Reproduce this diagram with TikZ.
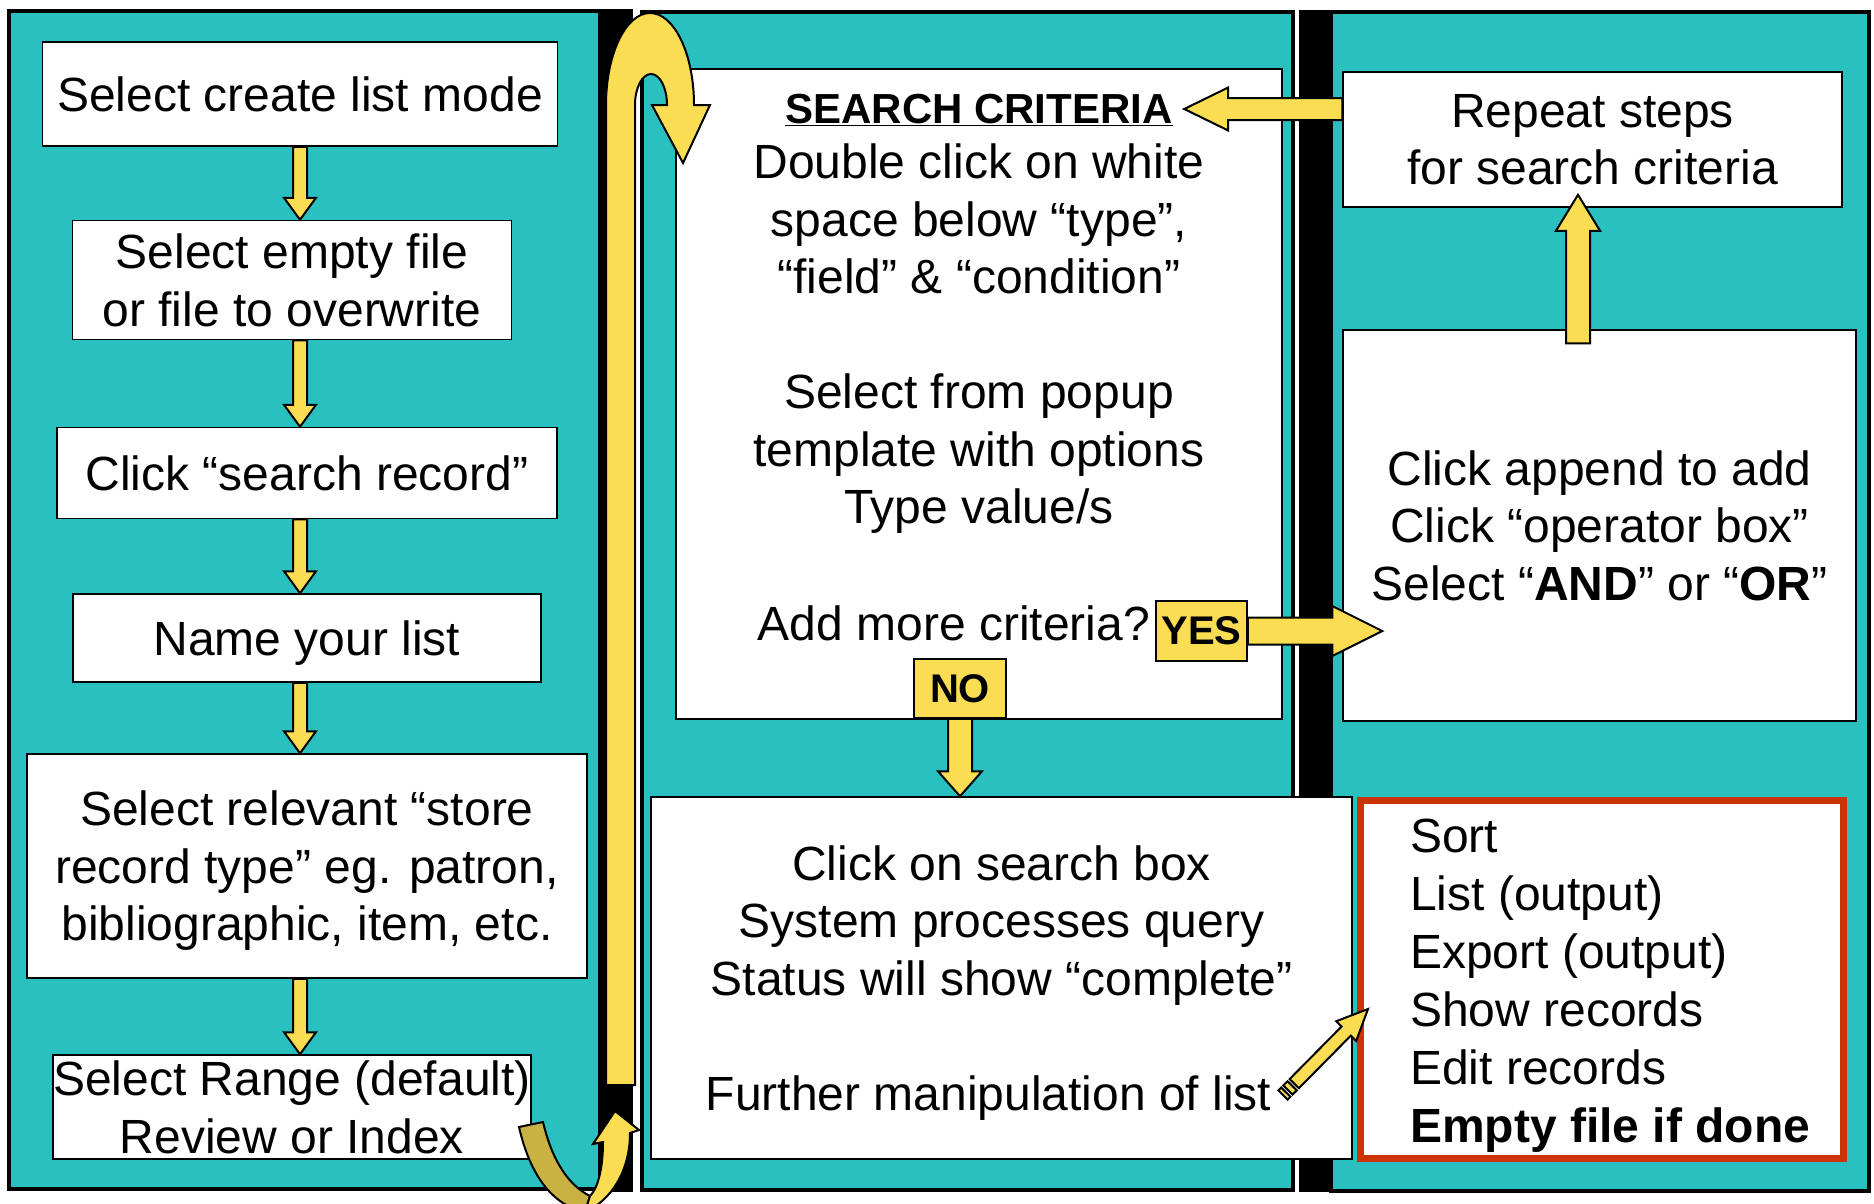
\documentclass[tikz,border=0pt]{standalone}
\usepackage{fontspec}
\setmainfont{Liberation Sans}
\usetikzlibrary{positioning,calc}

\definecolor{panelteal}{RGB}{42,192,191}
\definecolor{arrowyellow}{RGB}{250,221,82}
\definecolor{tailolive}{RGB}{201,178,66}
\definecolor{boxred}{RGB}{204,51,0}

% frame of a block arrow: start point, angle and length
\newcommand{\yframe}[2]{%
  \path (#1); \pgfgetlastxy{\yax}{\yay}%
  \path (#2); \pgfgetlastxy{\ybx}{\yby}%
  \pgfmathsetmacro{\yang}{atan2(\yby-\yay,\ybx-\yax)}%
  \pgfmathsetmacro{\ylen}{veclen(\ybx-\yax,\yby-\yay)}}

% from, to, shaft half width, head half width, head length
\newcommand{\yarrow}[5]{%
  \yframe{#1}{#2}%
  \begin{scope}[shift={(\yax,\yay)}, rotate=\yang, x=1pt, y=1pt]
    \draw[blockarrow] (0,-#3) -- ({\ylen-#5},-#3) -- ({\ylen-#5},-#4) -- (\ylen,0)
      -- ({\ylen-#5},#4) -- ({\ylen-#5},#3) -- (0,#3) -- cycle;
  \end{scope}}

\newcommand{\ystriped}[5]{%
  \yframe{#1}{#2}%
  \begin{scope}[shift={(\yax,\yay)}, rotate=\yang, x=1pt, y=1pt]
    \draw[blockarrow] (0,-#3) rectangle (4,#3);
    \draw[blockarrow] (7,-#3) rectangle (13,#3);
    \draw[blockarrow] (16,-#3) -- ({\ylen-#5},-#3) -- ({\ylen-#5},-#4) -- (\ylen,0)
      -- ({\ylen-#5},#4) -- ({\ylen-#5},#3) -- (16,#3) -- cycle;
  \end{scope}}

\begin{document}
\begin{tikzpicture}[x=1pt, y=-1pt,
	panel/.style={draw=black, line width=4pt, fill=panelteal},
	stepbox/.style={draw=black, line width=1.5pt, fill=white, inner sep=0pt, text depth=0pt, align=center, font=\fontsize{48}{57.5}\selectfont},
	txt/.style={inner sep=0pt, align=center, font=\fontsize{48}{57.5}\selectfont},
	tagbox/.style={draw=black, line width=1.5pt, fill=arrowyellow, inner sep=0pt, font=\fontsize{40}{48}\selectfont\bfseries},
	blockarrow/.style={draw=black, line width=2pt, fill=arrowyellow},
	tailarrow/.style={draw=black, line width=2pt, fill=tailolive}]
	
	\useasboundingbox (0,0) rectangle (1874,1203);
	\fill[white] (0,0) rectangle (1874,1203);
	
	% panels
	\draw[panel] (9,11) rectangle (600,1189);
	\fill[black] (600,9) rectangle (633,1192);
	\draw[panel] (642,12) rectangle (1293,1190);
	\fill[black] (1299,10) rectangle (1331,1192);
	\draw[panel] (1331,12) rectangle (1869,1191);
	
	% left column
	\node[stepbox, minimum width=515pt, minimum height=104pt] (mode) at (300,94) {Select create list mode};
	\node[stepbox, minimum width=439pt, minimum height=119pt] (file) at (292,280) {Select empty file\\or file to overwrite};
	\node[stepbox, minimum width=500pt, minimum height=91pt] (search) at (307,473) {Click “search record”};
	\node[stepbox, minimum width=468pt, minimum height=88pt] (name) at (307,638) {Name your list};
	\node[stepbox, minimum width=560pt, minimum height=224pt] (store) at (307,866) {Select relevant “store\\record type” eg. patron,\\bibliographic, item, etc.};
	\node[stepbox, minimum width=470pt, minimum height=104pt] (range) at (292,1107) {Select Range (default)\\Review or Index};
	
	% middle column
	\node[stepbox, minimum width=606pt, minimum height=650pt] (crit) at (979,394) {};
	\node[txt, anchor=base, inner sep=.3333em, font=\fontsize{42}{50}\selectfont\bfseries] (crittitle) at (979,123) {\underline{SEARCH CRITERIA}};
	\node[txt, anchor=north] (critsteps) at (979,144) {Double click on white\\space below “type”,\\“field” \& “condition”\\[57.5pt]Select from popup\\template with options\\Type value/s};
	\node[tagbox, minimum width=91pt, minimum height=60pt] (yes) at (1201.5,631) {YES};
	\node[tagbox, minimum width=92pt, minimum height=59pt] (no) at (960,688.5) {NO};
	\node[txt, anchor=east] (addmore) at ([xshift=-5pt, yshift=8pt]yes.west) {Add more criteria?};
	\node[stepbox, minimum width=701pt, minimum height=362pt] (query) at (1001.5,978) {Click on search box\\System processes query\\Status will show “complete”\\[57.5pt]Further manipulation of list\hspace{26pt}\mbox{}};
	
	% right column
	\node[stepbox, minimum width=499pt, minimum height=135pt] (rep) at (1592.5,139.5) {Repeat steps\\for search criteria};
	\node[stepbox, minimum width=513pt, minimum height=391pt] (rbox) at (1599.5,525.5) {Click append to add\\Click “operator box”\\Select “\textbf{AND}” or “\textbf{OR}”};
	\node[draw=boxred, line width=7pt, fill=white, minimum width=483pt, minimum height=358pt] (outopts) at (1602,979.5) {};
	\node[txt, align=left, anchor=north west, font=\fontsize{48}{58}\selectfont] (optlist) at (1410,819) {Sort\\List (output)\\Export (output)\\Show records\\Edit records\\\textbf{Empty file if done}};
	
	% arrows
	\coordinate (ax) at (300,0);
	\yarrow{mode.south -| ax}{file.north -| ax}{7}{16}{22}
	\yarrow{file.south -| ax}{search.north -| ax}{7}{16}{22}
	\yarrow{search.south -| ax}{name.north -| ax}{7}{16}{22}
	\yarrow{name.south -| ax}{store.north -| ax}{7}{16}{22}
	\yarrow{store.south -| ax}{range.north -| ax}{7}{16}{22}
	
	\yarrow{no.south}{query.north -| no.south}{12}{22}{25}
	\yarrow{yes.east}{$(yes.east -| rbox.west)+(40,0)$}{13.5}{25}{50}
	\coordinate (upx) at (1578,0);
	\yarrow{$(rbox.north -| upx)+(0,14)$}{$(rep.south -| upx)+(0,-13)$}{12}{22}{36}
	\coordinate (reptail) at ([yshift=30.5pt]rep.west);
	\coordinate (titletip) at ([xshift=8pt]crittitle.east);
	\yarrow{reptail}{titletip |- reptail}{11}{21.5}{44}
	
	\coordinate (dtail) at (1283,1095);
	\coordinate (dtip) at (1368,1009);
	\ystriped{dtail}{dtip}{6.5}{14}{31}
	
	% loop back to the search criteria
	\draw[blockarrow] (606,1085) -- (606,105) arc[start angle=180, end angle=0, x radius=44pt, y radius=92pt]
		-- (710,105) -- (683,163) -- (652,105) -- (667,105)
		arc[start angle=0, end angle=180, x radius=16pt, y radius=31pt] -- (635,1085) -- cycle;
	\draw[tailarrow] (519,1127) .. controls (530,1175) and (552,1205) .. (585,1212) -- (590,1196)
		.. controls (568,1185) and (552,1160) .. (543,1122) -- cycle;
	\draw[blockarrow] (585,1212) .. controls (612,1200) and (630,1170) .. (630,1133) -- (639,1130)
		-- (615,1111) -- (593,1144) -- (603,1142) .. controls (603,1168) and (598,1188) .. (590,1196) -- cycle;
\end{tikzpicture}
\end{document}
